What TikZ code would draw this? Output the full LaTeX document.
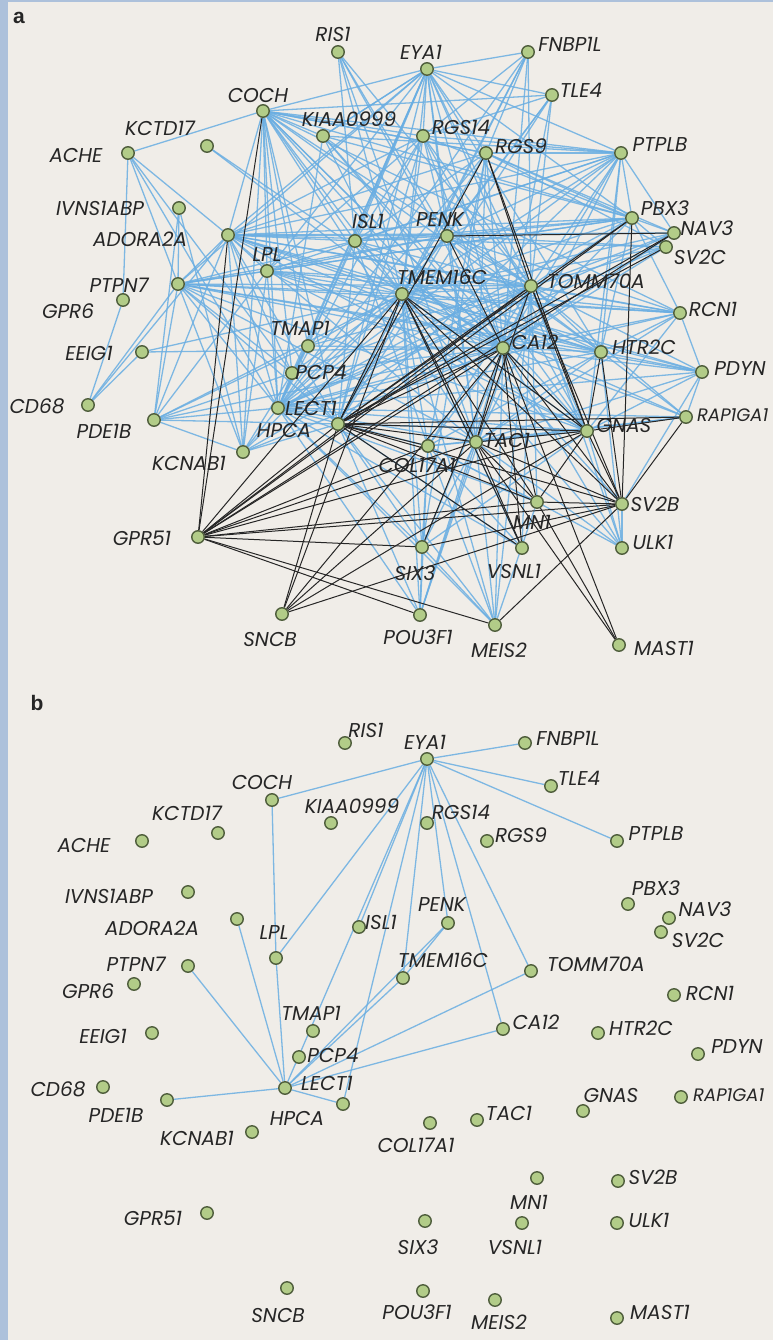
\documentclass[tikz,border=0pt]{standalone}
\usepackage{fontspec}
\newfontfamily\labfont{Poppins}
\newfontfamily\panelfont{Liberation Sans}
\definecolor{bgc}{HTML}{F0EDE8}
\definecolor{bandc}{HTML}{ADC1DB}
\definecolor{edgeblue}{HTML}{6AAEE2}
\definecolor{edgeblack}{HTML}{262626}
\definecolor{dotfill}{HTML}{B2CC88}
\definecolor{dotline}{HTML}{4F5E3C}
\definecolor{txt}{HTML}{262626}
\pgfdeclarelayer{bg}\pgfdeclarelayer{blue}\pgfdeclarelayer{dark}
\pgfsetlayers{bg,blue,dark,main}
\newcommand\mygn[7]{\node[dot] (#1#2) at (#3,#4) {}; \node[lbl] (#1#2l) at (#5,#6) {#7};}
\begin{document}
\begin{tikzpicture}[x=1pt,y=-1pt,
 dot/.style={circle, draw=dotline, fill=dotfill, line width=1.4pt, minimum size=12.5pt, inner sep=0pt},
 lbl/.style={font=\labfont\itshape\fontsize{20}{20}\selectfont, text=txt, inner sep=0pt},
 lbls/.style={font=\labfont\itshape\fontsize{18}{18}\selectfont, text=txt, inner sep=0pt, anchor=west},
 bedge/.style={draw=edgeblue, line width=1.3pt, opacity=0.85},
 kedge/.style={draw=edgeblack, line width=1pt},
 plbl/.style={font=\panelfont\bfseries\fontsize{21}{21}\selectfont, inner sep=0pt, text=txt}]
\useasboundingbox (0,0) rectangle (773,1340);
\begin{pgfonlayer}{bg}
\fill[bgc] (0,0) rectangle (773,1340);
\fill[bandc] (0,0) rectangle (8,1340);
\fill[bandc] (0,0) rectangle (773,2);
\end{pgfonlayer}

\node[plbl] (pa) at (19,18) {a};
\node[plbl] (pb) at (37,703) {b};

% ---------------- panel a nodes
\mygn{a}{ris}{338}{52}{333}{34}{RIS1}
\mygn{a}{eya}{427}{69}{421}{52}{EYA1}
\mygn{a}{fnb}{528}{52}{570}{44}{FNBP1L}
\mygn{a}{tle}{552}{95}{581}{90}{TLE4}
\mygn{a}{coch}{263}{111}{258}{96}{COCH}
\mygn{a}{kct}{207}{146}{160}{128}{KCTD17}
\mygn{a}{kia}{323}{136}{349}{119}{KIAA0999}
\mygn{a}{r14}{423}{136}{461}{127}{RGS14}
\mygn{a}{r9}{486}{153}{521}{146}{RGS9}
\mygn{a}{ptp}{621}{153}{660}{145}{PTPLB}
\mygn{a}{ache}{128}{153}{76}{156}{ACHE}
\mygn{a}{ivn}{179}{208}{100}{208}{IVNS1ABP}
\mygn{a}{ado}{228}{235}{140}{239}{ADORA2A}
\mygn{a}{isl}{355}{241}{368}{221}{ISL1}
\mygn{a}{penk}{447}{236}{440}{220}{PENK}
\mygn{a}{pbx}{632}{218}{665}{208}{PBX3}
\mygn{a}{nav}{674}{233}{707}{228}{NAV3}
\mygn{a}{sv2c}{666}{247}{700}{257}{SV2C}
\mygn{a}{lpl}{267}{271}{267}{255}{LPL}
\mygn{a}{ptn}{178}{284}{119}{285}{PTPN7}
\mygn{a}{gpr6}{123}{300}{68}{311}{GPR6}
\mygn{a}{tmem}{402}{294}{442}{277}{TMEM16C}
\mygn{a}{tom}{531}{286}{596}{281}{TOMM70A}
\mygn{a}{rcn}{680}{313}{713}{309}{RCN1}
\mygn{a}{tmap}{308}{346}{300}{328}{TMAP1}
\mygn{a}{eeig}{142}{352}{89}{353}{EEIG1}
\mygn{a}{ca}{503}{348}{535}{342}{CA12}
\mygn{a}{htr}{601}{352}{644}{347}{HTR2C}
\mygn{a}{pdyn}{702}{372}{740}{369}{PDYN}
\mygn{a}{pcp}{292}{373}{321}{372}{PCP4}
\mygn{a}{cd}{88}{405}{37}{406}{CD68}
\mygn{a}{lect}{278}{408}{311}{408}{LECT1}
\mygn{a}{pde}{154}{420}{104}{431}{PDE1B}
\mygn{a}{hpca}{338}{424}{284}{430}{HPCA}
\mygn{a}{kcn}{243}{452}{189}{463}{KCNAB1}
\mygn{a}{col}{428}{446}{417}{465}{COL17A1}
\mygn{a}{tac}{476}{442}{507}{440}{TAC1}
\mygn{a}{gnas}{587}{431}{624}{426}{GNAS}
\node[dot] (arap) at (686,417) {};
\node[lbls] (arapl) at (697,415) {RAP1GA1};
\mygn{a}{sv2b}{622}{504}{655}{504}{SV2B}
\mygn{a}{mn}{537}{502}{532}{522}{MN1}
\mygn{a}{gpr51}{198}{537}{142}{538}{GPR51}
\mygn{a}{six}{422}{547}{415}{573}{SIX3}
\mygn{a}{vsn}{522}{548}{514}{571}{VSNL1}
\mygn{a}{ulk}{622}{548}{653}{542}{ULK1}
\mygn{a}{sncb}{282}{614}{270}{640}{SNCB}
\mygn{a}{pou}{420}{615}{418}{637}{POU3F1}
\mygn{a}{meis}{495}{625}{499}{650}{MEIS2}
\mygn{a}{mast}{619}{645}{664}{648}{MAST1}

% ---------------- panel b nodes
\mygn{b}{ris}{345}{743}{366}{730}{RIS1}
\mygn{b}{eya}{427}{759}{425}{742}{EYA1}
\mygn{b}{fnb}{525}{743}{568}{738}{FNBP1L}
\mygn{b}{tle}{551}{786}{579}{778}{TLE4}
\mygn{b}{coch}{272}{800}{262}{783}{COCH}
\mygn{b}{kia}{331}{823}{352}{806}{KIAA0999}
\mygn{b}{kct}{218}{833}{187}{813}{KCTD17}
\mygn{b}{r14}{427}{823}{461}{812}{RGS14}
\mygn{b}{r9}{487}{841}{521}{835}{RGS9}
\mygn{b}{ptp}{617}{841}{656}{834}{PTPLB}
\mygn{b}{ache}{142}{841}{84}{845}{ACHE}
\mygn{b}{ivn}{188}{892}{109}{896}{IVNS1ABP}
\mygn{b}{ado}{237}{919}{152}{928}{ADORA2A}
\mygn{b}{isl}{359}{927}{381}{922}{ISL1}
\mygn{b}{penk}{448}{923}{442}{905}{PENK}
\mygn{b}{pbx}{628}{904}{656}{888}{PBX3}
\mygn{b}{nav}{669}{918}{705}{909}{NAV3}
\mygn{b}{sv2c}{661}{932}{698}{940}{SV2C}
\mygn{b}{lpl}{276}{958}{274}{933}{LPL}
\mygn{b}{ptn}{188}{966}{136}{964}{PTPN7}
\mygn{b}{gpr6}{134}{984}{88}{991}{GPR6}
\mygn{b}{tmem}{403}{978}{443}{960}{TMEM16C}
\mygn{b}{tom}{531}{971}{596}{964}{TOMM70A}
\mygn{b}{rcn}{674}{995}{710}{993}{RCN1}
\mygn{b}{tmap}{313}{1031}{311}{1013}{TMAP1}
\mygn{b}{eeig}{152}{1033}{103}{1036}{EEIG1}
\mygn{b}{ca}{503}{1029}{536}{1022}{CA12}
\mygn{b}{htr}{598}{1033}{641}{1028}{HTR2C}
\mygn{b}{pdyn}{698}{1054}{737}{1047}{PDYN}
\mygn{b}{pcp}{299}{1057}{333}{1055}{PCP4}
\mygn{b}{cd}{103}{1087}{58}{1089}{CD68}
\mygn{b}{lect}{285}{1088}{327}{1083}{LECT1}
\mygn{b}{pde}{167}{1100}{116}{1115}{PDE1B}
\mygn{b}{hpca}{343}{1104}{297}{1118}{HPCA}
\mygn{b}{kcn}{252}{1132}{197}{1138}{KCNAB1}
\mygn{b}{col}{430}{1123}{416}{1145}{COL17A1}
\mygn{b}{tac}{477}{1120}{509}{1113}{TAC1}
\mygn{b}{gnas}{583}{1111}{611}{1095}{GNAS}
\node[dot] (brap) at (681,1097) {};
\node[lbls] (brapl) at (693,1095) {RAP1GA1};
\mygn{b}{sv2b}{618}{1181}{653}{1177}{SV2B}
\mygn{b}{mn}{537}{1178}{529}{1202}{MN1}
\mygn{b}{gpr51}{207}{1213}{153}{1218}{GPR51}
\mygn{b}{six}{425}{1221}{418}{1247}{SIX3}
\mygn{b}{vsn}{522}{1223}{515}{1247}{VSNL1}
\mygn{b}{ulk}{617}{1223}{649}{1220}{ULK1}
\mygn{b}{sncb}{287}{1288}{278}{1315}{SNCB}
\mygn{b}{pou}{423}{1291}{417}{1312}{POU3F1}
\mygn{b}{meis}{495}{1300}{499}{1322}{MEIS2}
\mygn{b}{mast}{617}{1318}{660}{1312}{MAST1}

% ---------------- panel a blue edges
\begin{pgfonlayer}{blue}
\foreach \p/\q in {ache/coch, ache/gpr6, ache/ado, ache/ptn, ache/lect, ache/pcp,
 kct/tmem, kct/ca, ivn/ptn, ivn/pde, ivn/kcn, gpr6/cd, cd/ado, cd/ptn,
 eeig/tmem, eeig/cd, eeig/ca,
 ris/isl, ris/tmem, ris/penk, ris/ca, ris/tac, ris/tom,
 eya/coch, eya/fnb, eya/tle, eya/ptp, eya/r14, eya/kia, eya/isl, eya/lpl, eya/tmem, eya/penk, eya/tom, eya/ca, eya/ado, eya/lect, eya/hpca, eya/pcp, eya/tmap, eya/ptn, eya/gnas, eya/htr, eya/pbx, eya/r9, eya/tac,
 fnb/r9, fnb/tom, fnb/tmem, fnb/hpca, fnb/r14, fnb/ca, fnb/lect,
 tle/coch, tle/r14, tle/tom, tle/hpca, tle/tmem, tle/ca, tle/penk,
 ptp/r14, ptp/r9, ptp/kia, ptp/coch, ptp/isl, ptp/penk, ptp/tmem, ptp/tom, ptp/ca, ptp/pbx, ptp/lect, ptp/lpl, ptp/ado, ptp/hpca, ptp/gnas, ptp/htr, ptp/tac, ptp/nav,
 r14/coch, r14/tmem, r14/tom, r14/ca, r14/lect, r14/hpca, r14/penk, r14/pbx, r14/gnas, r14/ado, r14/lpl, r14/isl,
 r9/coch, r9/tmem, r9/lect, r9/ca, r9/pbx, r9/nav, r9/sv2c, r9/tac, r9/six, r9/col, r9/isl, r9/ado,
 kia/eya, kia/tmem, kia/ca, kia/tom, kia/lect, kia/pbx, kia/gnas,
 coch/kia, coch/r9, coch/ado, coch/lpl, coch/kcn, coch/lect, coch/pcp, coch/tmap, coch/tmem, coch/tom, coch/ca, coch/gnas, coch/tac, coch/hpca, coch/htr, coch/sv2b, coch/pbx, coch/rcn, coch/isl,
 ado/ptn, ado/lpl, ado/isl, ado/penk, ado/tmem, ado/tom, ado/ca, ado/pbx, ado/nav, ado/sv2c, ado/htr, ado/pde, ado/kcn, ado/lect, ado/pcp, ado/hpca, ado/gnas, ado/tac, ado/rcn, ado/pdyn,
 ptn/pde, ptn/kcn, ptn/lect, ptn/hpca, ptn/tmem, ptn/tom, ptn/ca, ptn/penk, ptn/isl, ptn/lpl, ptn/pbx, ptn/htr, ptn/rcn, ptn/pdyn, ptn/gnas, ptn/tac, ptn/pcp,
 pde/lpl, pde/tmap, pde/pcp, pde/lect, pde/hpca, pde/tmem, pde/kcn, pde/ca,
 kcn/lect, kcn/pcp, kcn/hpca, kcn/tmem, kcn/lpl, kcn/ca, kcn/tom,
 lpl/tmem, lpl/tom, lpl/ca, lpl/penk, lpl/pbx, lpl/htr, lpl/gnas, lpl/lect, lpl/rcn,
 isl/tmem, isl/tom, isl/ca, isl/pbx, isl/penk, isl/lect, isl/hpca, isl/col, isl/htr,
 penk/tmem, penk/tom, penk/pbx, penk/htr, penk/lect, penk/hpca, penk/gnas, penk/tac, penk/sv2c, penk/rcn,
 tmem/tom, tmem/ca, tmem/pbx, tmem/nav, tmem/sv2c, tmem/rcn, tmem/htr, tmem/pdyn, tmem/rap, tmem/gnas, tmem/col, tmem/lect, tmem/pcp, tmem/tmap, tmem/six, tmem/pou, tmem/meis, tmem/vsn, tmem/ulk,
 tom/ca, tom/pbx, tom/nav, tom/sv2c, tom/rcn, tom/htr, tom/pdyn, tom/rap, tom/col, tom/lect, tom/pcp, tom/tmap, tom/six, tom/meis, tom/vsn, tom/mn, tom/ulk, tom/pou,
 ca/pbx, ca/nav, ca/sv2c, ca/rcn, ca/htr, ca/pdyn, ca/rap, ca/col, ca/lect, ca/pcp, ca/tmap, ca/pou, ca/meis, ca/ulk,
 pbx/nav, pbx/sv2c, pbx/rcn, pbx/htr, pbx/lect,
 htr/rcn, htr/pdyn, htr/rap, htr/ulk, htr/tac, htr/lect, htr/col,
 rcn/pdyn, rcn/lect, rcn/gnas, rcn/tac,
 pdyn/gnas, pdyn/tac, pdyn/lect, pdyn/rap, pdyn/sv2b,
 rap/tac, rap/lect, rap/col,
 gnas/col, gnas/lect, gnas/hpca, gnas/ulk, gnas/six,
 tac/lect, tac/six, tac/pou, tac/meis, tac/ulk,
 col/lect, col/six, col/pou, col/meis, col/mn,
 six/lect, six/hpca, six/meis, six/pou, pou/hpca, pou/lect,
 meis/hpca, meis/lect, meis/mn, vsn/lect, vsn/hpca, vsn/col,
 mn/lect, mn/ulk, mn/col, ulk/sv2b,
 lect/pcp, lect/tmap, pcp/tmap, pcp/hpca, sv2c/lect, nav/lect}
 {\draw[bedge] (a\p) -- (a\q);}
% panel b blue edges
\foreach \p/\q in {eya/coch, eya/fnb, eya/tle, eya/ptp, eya/lpl, eya/isl, eya/lect, eya/hpca, eya/tmem, eya/penk, eya/ca, eya/tom,
 coch/lpl, lpl/lect, penk/tmem, lect/ptn, lect/ado, lect/pde, lect/hpca, lect/tmem, lect/penk, lect/tom, lect/ca}
 {\draw[bedge] (b\p) -- (b\q);}
\end{pgfonlayer}

% ---------------- panel a dark edges
\begin{pgfonlayer}{dark}
\foreach \p/\q in {gpr51/coch, gpr51/ado, gpr51/hpca, gpr51/tmem, gpr51/tom, gpr51/ca, gpr51/nav, gpr51/gnas, gpr51/tac, gpr51/sv2b, gpr51/mn, gpr51/six, gpr51/pou, gpr51/meis, gpr51/col, gpr51/pbx,
 sncb/hpca, sncb/tmem, sncb/ca, sncb/tac, sncb/gnas, sncb/sv2b,
 hpca/nav, hpca/sv2c, hpca/pbx, hpca/tom, hpca/ca, hpca/gnas, hpca/tac, hpca/sv2b, hpca/mn, hpca/r9, hpca/tmem, hpca/col, hpca/rap, hpca/vsn,
 tmem/tac, tmem/mn, tmem/gnas, tmem/sv2b, tmem/vsn,
 r9/gnas, r9/tom, penk/nav, penk/ca, pbx/sv2b,
 ca/sv2b, ca/gnas, ca/mn, ca/tac, ca/vsn, ca/mast, ca/six,
 tac/mast, tac/mn, tac/vsn, tac/sv2b, tac/gnas,
 gnas/sv2b, gnas/rap, gnas/mn,
 sv2b/rap, sv2b/meis, sv2b/mn, sv2b/htr, sv2b/tom, sv2b/six,
 mast/mn, htr/gnas, tom/gnas, tom/tac}
 {\draw[kedge] (a\p) -- (a\q);}
\end{pgfonlayer}
\end{tikzpicture}
\end{document}
